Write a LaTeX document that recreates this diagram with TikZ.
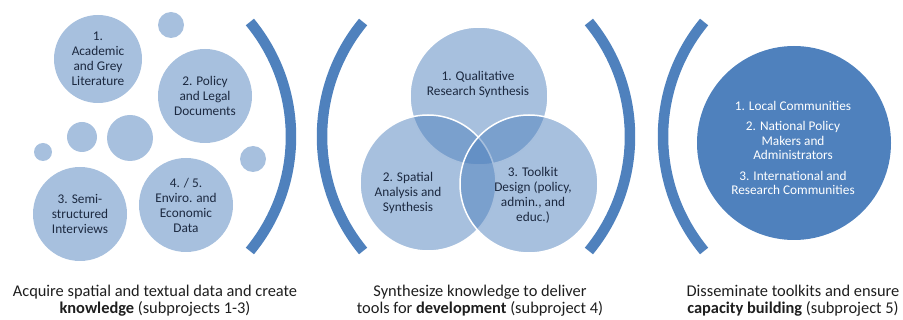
\documentclass[tikz,border=0pt]{standalone}
\usepackage{fontspec}
\setmainfont{Carlito}
\usepackage{tikz}
\usetikzlibrary{positioning}
\definecolor{accent}{HTML}{4F81BD}
\definecolor{pale}{HTML}{A7C0DE}
\definecolor{ink}{HTML}{1C2940}
\definecolor{captionink}{HTML}{1E1E1E}
\tikzset{
  bubble/.style={circle, fill=pale, inner sep=0pt, text=ink, align=center,
    font=\fontsize{13.3}{15}\selectfont},
  dot/.style={circle, fill=pale, inner sep=0pt},
  venn/.style={circle, fill=accent, fill opacity=0.5, draw=white, line width=1.5pt, inner sep=0pt},
  venntext/.style={align=center, text=ink, font=\fontsize{13.3}{15}\selectfont},
  reachtext/.style={align=center, text=white, font=\fontsize{13.3}{14.5}\selectfont},
  bracket/.style={draw=accent, line width=10.5pt},
  caption/.style={align=center, text=captionink, font=\fontsize{16.4}{17}\selectfont}
}

\begin{document}
\begin{tikzpicture}[x=1pt, y=-1pt]
  \useasboundingbox (0,0) rectangle (903,320);

  % acquire
  \node[bubble, minimum size=88] (acad) at (98,59) {1.\\Academic\\and Grey\\Literature};
  \node[bubble, minimum size=94] (policy) at (205,96) {2. Policy\\and Legal\\Documents};
  \node[bubble, minimum size=94] (interv) at (80,214) {3. Semi-\\structured\\Interviews};
  \node[bubble, minimum size=94] (enviro) at (186,205) {4. / 5.\\Enviro. and\\Economic\\Data};
  \foreach \x/\y/\r [count=\i] in {171/25/13, 82/137/15, 43/152/9, 130/138/23, 253/159/13}
    \node[dot, minimum size=2*\r] (dot\i) at (\x,\y) {};

  % synthesize
  \node[venn, minimum size=138] (qual) at (479,96) {};
  \node[venn, minimum size=136] (spat) at (428,183) {};
  \node[venn, minimum size=138] (tool) at (529,184) {};
  \node[venntext] (qual-txt) at (478,84) {1. Qualitative\\Research Synthesis};
  \node[venntext] (spat-txt) at (408,193) {2. Spatial\\Analysis and\\Synthesis};
  \node[venntext] (tool-txt) at (533,195) {3. Toolkit\\Design (policy,\\admin., and\\educ.)};

  % disseminate
  \node[circle, fill=accent, inner sep=0pt, minimum size=194] (reach) at (794,143) {};
  \node[reachtext] (reach-txt) at (793,148) {1. Local Communities\\[6pt]
    2. National Policy\\Makers and\\Administrators\\[6pt]
    3. International and\\Research Communities};

  % brackets
  \foreach \cx/\a in {111/0, 450/0, 502/180, 843/180}
    \draw[bracket] (\cx,136.5) ++(\a-39.5:180) arc[start angle=\a-39.5, end angle=\a+39.5, radius=180];

  \node[caption] (acquire) at (155,301) {Acquire spatial and textual data and create\\
    \textbf{knowledge} (subprojects 1-3)};
  \node[caption] (synth) at (480,301) {Synthesize knowledge to deliver\\
    tools for \textbf{development} (subproject 4)};
  \node[caption] (dissem) at (793,301) {Disseminate toolkits and ensure\\
    \textbf{capacity building} (subproject 5)};
\end{tikzpicture}
\end{document}
